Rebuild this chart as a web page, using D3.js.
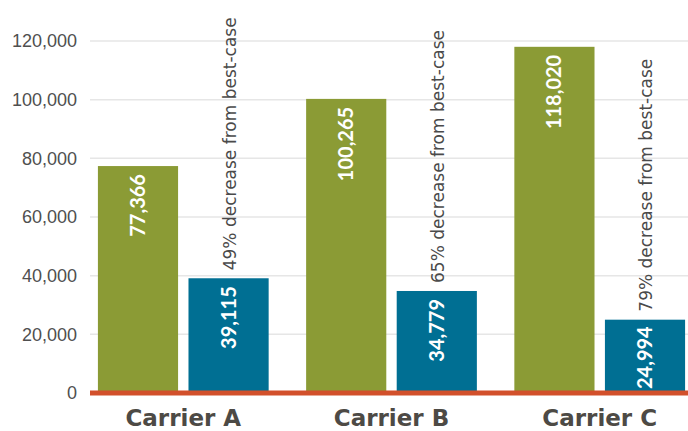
<!DOCTYPE html>
<html>
<head>
<meta charset="utf-8">
<script src="https://cdn.jsdelivr.net/npm/d3@7"></script>
<style>
  body { margin: 0; background: #fff; }
  svg { display: block; }
</style>
</head>
<body>
<svg id="chart"></svg>
<script>
const width = 688, height = 431;

// data
const carriers = ["Carrier A", "Carrier B", "Carrier C"];
const series = ["best", "worst"];
const bestCase = [77366, 100265, 118020];
const worstCase = [39115, 34779, 24994];
const notes = ["49% decrease from best-case", "65% decrease from best-case", "79% decrease from best-case"];
const yTicks = [0, 20000, 40000, 60000, 80000, 100000, 120000];

const colors = { best: "#8b9b35", worst: "#006f93" };

const svg = d3.select("#chart")
    .attr("width", width)
    .attr("height", height);

const x0 = d3.scaleBand()
    .domain(carriers)
    .range([90, 693])
    .paddingInner(0.18)
    .paddingOuter(0.038);

const x1 = d3.scaleBand()
    .domain(series)
    .range([0, x0.bandwidth()])
    .paddingInner(0.115);

const y = d3.scaleLinear()
    .domain([0, 120000])
    .range([393, 41]);

// gridlines
svg.append("g")
    .selectAll("line")
    .data(yTicks.filter(d => d > 0))
    .enter()
    .append("line")
    .attr("x1", 90)
    .attr("x2", width)
    .attr("y1", d => y(d))
    .attr("y2", d => y(d))
    .attr("stroke", "#e6e6e6")
    .attr("stroke-width", 1.5);

// y axis labels
const yAxis = d3.axisLeft(y)
    .tickValues(yTicks)
    .tickFormat(d3.format(","))
    .tickSize(0)
    .tickPadding(0);

svg.append("g")
    .attr("transform", "translate(77,0)")
    .call(yAxis)
    .call(g => g.select(".domain").remove())
    .selectAll("text")
    .attr("font-family", "'Liberation Sans', Arial, sans-serif")
    .attr("font-size", 18)
    .attr("fill", "#4f4f4f");

const rows = carriers.map((c, i) => ({
  carrier: c,
  best: bestCase[i],
  worst: worstCase[i],
  note: notes[i]
}));

const groups = svg.selectAll(".group")
    .data(rows)
    .enter()
    .append("g")
    .attr("class", "group")
    .attr("transform", d => `translate(${x0(d.carrier)},0)`);

groups.selectAll("rect")
    .data(d => series.map(s => ({ key: s, value: d[s] })))
    .enter()
    .append("rect")
    .attr("x", d => x1(d.key))
    .attr("width", x1.bandwidth())
    .attr("y", d => y(d.value))
    .attr("height", d => y(0) - y(d.value))
    .attr("fill", d => colors[d.key]);

// value labels inside bars, rotated
groups.selectAll(".val")
    .data(d => series.map(s => ({ key: s, value: d[s] })))
    .enter()
    .append("text")
    .attr("class", "val")
    .attr("font-family", "Lato, 'Open Sans', sans-serif")
    .attr("font-weight", "bold")
    .attr("font-size", 20)
    .attr("fill", "#fff")
    .attr("text-anchor", "end")
    .text(d => d3.format(",")(d.value))
    .each(function(d) {
      const len = this.getComputedTextLength();
      const barH = y(0) - y(d.value);
      const off = Math.min(8, barH - len - 4);
      const cx = x1(d.key) + x1.bandwidth() / 2 + 7;
      d3.select(this).attr("transform", `translate(${cx},${y(d.value) + off}) rotate(-90)`);
    });

// annotation above the worst-case bar
groups.append("text")
    .attr("font-family", "'DejaVu Sans', sans-serif")
    .attr("font-size", 17)
    .attr("fill", "#4a4a4a")
    .attr("transform", d => `translate(${x1("worst") + x1.bandwidth() / 2 + 7},${y(d.worst) - 8}) rotate(-90)`)
    .text(d => d.note);

// red baseline
svg.append("line")
    .attr("x1", 90)
    .attr("x2", width)
    .attr("y1", y(0))
    .attr("y2", y(0))
    .attr("stroke", "#d2502b")
    .attr("stroke-width", 5);

// category labels
svg.append("g")
    .selectAll("text")
    .data(carriers)
    .enter()
    .append("text")
    .attr("x", d => x0(d) + x0.bandwidth() / 2)
    .attr("y", 426)
    .attr("text-anchor", "middle")
    .attr("font-family", "'DejaVu Sans', sans-serif")
    .attr("font-weight", "bold")
    .attr("font-size", 23)
    .attr("fill", "#4d4a45")
    .text(d => d);
</script>
</body>
</html>
